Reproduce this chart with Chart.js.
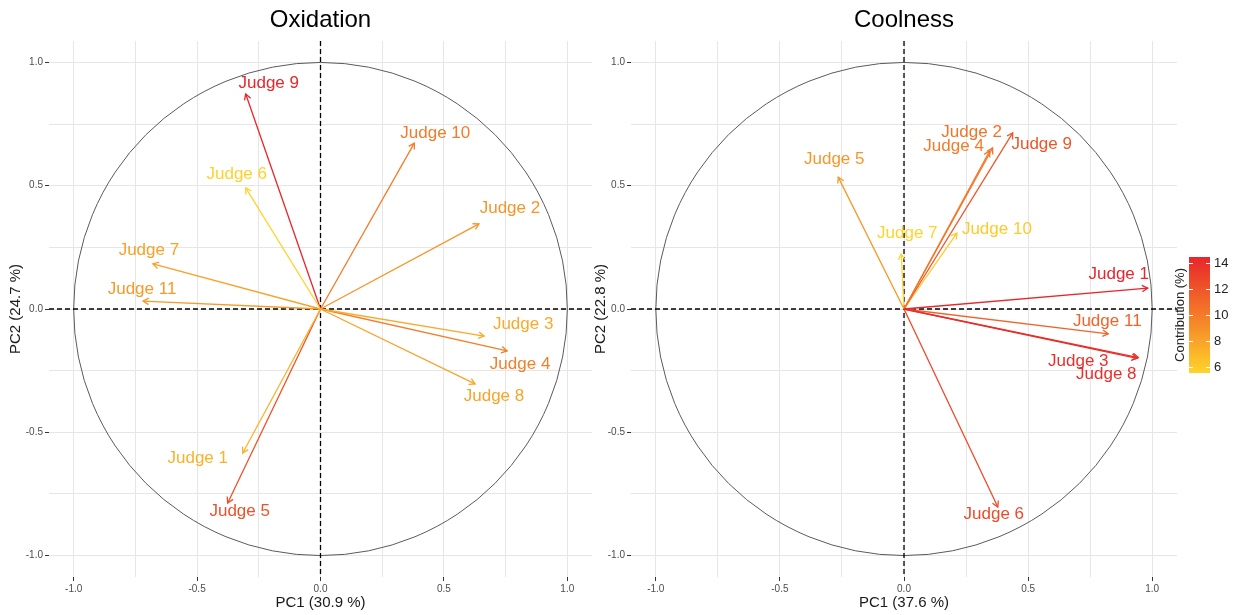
<!DOCTYPE html>
<html>
<head>
<meta charset="utf-8">
<script src="https://cdn.jsdelivr.net/npm/chart.js@4/dist/chart.umd.min.js"></script>
<style>
  body { margin: 0; background: #fff; width: 1240px; height: 615px; overflow: hidden; position: relative; }
  canvas { position: absolute; top: 0; }
  #oxidation { left: 0; }
  #coolness { left: 585px; }
</style>
</head>
<body>
<canvas id="oxidation" width="600" height="615"></canvas>
<canvas id="coolness" width="655" height="615"></canvas>
<script>
// waarden

var judges = ['Judge 1', 'Judge 2', 'Judge 3', 'Judge 4', 'Judge 5', 'Judge 6',
              'Judge 7', 'Judge 8', 'Judge 9', 'Judge 10', 'Judge 11'];

// Oxidation
var oxPC1 = [-0.315, 0.642, 0.663, 0.756, -0.376, -0.303, -0.679, 0.626, -0.303, 0.380, -0.719];
var oxPC2 = [-0.584, 0.345, -0.110, -0.170, -0.787, 0.491, 0.183, -0.304, 0.872, 0.673, 0.032];
var oxContrib = [7.2, 8.7, 7.6, 9.8, 12.2, 5.6, 8.1, 8.0, 14.5, 10.0, 8.5];

// Coolness
var coPC1 = [0.982, 0.357, 0.940, 0.345, -0.265, 0.378, -0.011, 0.944, 0.438, 0.213, 0.823];
var coPC2 = [0.085, 0.653, -0.200, 0.641, 0.535, -0.803, 0.223, -0.197, 0.714, 0.308, -0.101];
var coContrib = [14.5, 10.4, 14.0, 10.0, 8.6, 12.6, 5.5, 14.0, 12.0, 6.0, 11.2];

var axisTicks = [-1.0, -0.5, 0.0, 0.5, 1.0];
var minorTicks = [-0.75, -0.25, 0.25, 0.75];
var legendTicks = [6, 8, 10, 12, 14];

// label offsets in pixels (ggrepel-achtig)
var oxNudge = [[-45, 5], [31, -16], [39, -12], [13, 13], [12, 8], [-9, -14], [-4, -14], [19, 12], [23, -11], [21, -10], [-1, -12]];
var coNudge = [[-29, -14], [-21, -16], [-59, 3], [-36, -5], [-4, -18], [-4, 7], [6, -21], [-32, 17], [29, 11], [40, -4], [-1, -13]];

Chart.defaults.font.family = '"Liberation Sans", Arial, sans-serif';

var contribMin = 5.5, contribMax = 14.5;
var gradStops = [[255, 212, 42], [244, 123, 40], [232, 38, 43]];

function contribColour(v) {
    var t = (v - contribMin) / (contribMax - contribMin);
    t = Math.max(0, Math.min(1, t));
    var a, b, f;
    if (t < 0.5) { a = gradStops[0]; b = gradStops[1]; f = t / 0.5; }
    else { a = gradStops[1]; b = gradStops[2]; f = (t - 0.5) / 0.5; }
    var c = a.map(function (x, i) { return Math.round(x + (b[i] - x) * f); });
    return 'rgb(' + c.join(',') + ')';
}

function isMajor(v) {
    return axisTicks.some(function (t) { return Math.abs(t - v) < 1e-6; });
}

function allTicks(scale) {
    scale.ticks = axisTicks.concat(minorTicks).sort(function (a, b) { return a - b; })
        .map(function (v) { return { value: v }; });
}

// cirkel, stippellijnen, pijlpunten, labels, titel en legenda
var pcaPlugin = {
    id: 'pcaPlugin',
    beforeDatasetsDraw: function (chart) {
        var ctx = chart.ctx, x = chart.scales.x, y = chart.scales.y, a = chart.chartArea;
        var cx = x.getPixelForValue(0), cy = y.getPixelForValue(0);
        var rx = x.getPixelForValue(1) - cx, ry = cy - y.getPixelForValue(1);
        ctx.save();
        ctx.strokeStyle = '#5a5a5a';
        ctx.lineWidth = 1;
        ctx.beginPath();
        ctx.ellipse(cx, cy, rx, ry, 0, 0, Math.PI * 2);
        ctx.stroke();
        ctx.strokeStyle = '#000';
        ctx.lineWidth = 1.3;
        ctx.setLineDash([5, 3]);
        ctx.beginPath();
        ctx.moveTo(a.left, cy); ctx.lineTo(a.right, cy);
        ctx.moveTo(cx, a.top); ctx.lineTo(cx, a.bottom);
        ctx.stroke();
        ctx.restore();
    },
    afterDatasetsDraw: function (chart, args, opts) {
        var ctx = chart.ctx, x = chart.scales.x, y = chart.scales.y, a = chart.chartArea;
        var cx = x.getPixelForValue(0), cy = y.getPixelForValue(0);
        ctx.save();
        chart.data.datasets.forEach(function (ds, i) {
            var p = ds.data[1];
            var px = x.getPixelForValue(p.x), py = y.getPixelForValue(p.y);
            var ang = Math.atan2(py - cy, px - cx);
            var len = 6.5, spread = Math.PI / 6;
            ctx.strokeStyle = ds.borderColor;
            ctx.lineWidth = 1.3;
            ctx.beginPath();
            ctx.moveTo(px - len * Math.cos(ang - spread), py - len * Math.sin(ang - spread));
            ctx.lineTo(px, py);
            ctx.lineTo(px - len * Math.cos(ang + spread), py - len * Math.sin(ang + spread));
            ctx.stroke();
            var n = opts.nudge[i];
            ctx.fillStyle = ds.borderColor;
            ctx.font = '17px "Liberation Sans", Arial, sans-serif';
            ctx.textAlign = 'center';
            ctx.textBaseline = 'middle';
            ctx.fillText(ds.label, px + n[0], py + n[1]);
        });
        // titel
        ctx.fillStyle = '#000';
        ctx.font = '24px "Liberation Sans", Arial, sans-serif';
        ctx.textAlign = 'center';
        ctx.textBaseline = 'middle';
        ctx.fillText(opts.title, (a.left + a.right) / 2, 20);

        if (opts.legend) {
            var bx = a.right + 12, bw = 21, top = 257, bottom = 373;
            var vy = function (v) { return bottom - (v - contribMin) / (contribMax - contribMin) * (bottom - top); };
            var g = ctx.createLinearGradient(0, bottom, 0, top);
            for (var k = 0; k <= 20; k++) {
                g.addColorStop(k / 20, contribColour(contribMin + (contribMax - contribMin) * k / 20));
            }
            ctx.fillStyle = g;
            ctx.fillRect(bx, top, bw, bottom - top);
            ctx.strokeStyle = '#fff';
            ctx.lineWidth = 1;
            ctx.fillStyle = '#222';
            ctx.font = '13px "Liberation Sans", Arial, sans-serif';
            ctx.textAlign = 'left';
            legendTicks.forEach(function (v) {
                var ty = Math.round(vy(v)) + 0.5;
                ctx.beginPath();
                ctx.moveTo(bx, ty); ctx.lineTo(bx + 4, ty);
                ctx.moveTo(bx + bw - 4, ty); ctx.lineTo(bx + bw, ty);
                ctx.stroke();
                ctx.fillText(String(v), bx + bw + 4, ty);
            });
            ctx.save();
            ctx.translate(a.right + 3, (top + bottom) / 2);
            ctx.rotate(-Math.PI / 2);
            ctx.textAlign = 'center';
            ctx.font = '13px "Liberation Sans", Arial, sans-serif';
            ctx.fillText('Contribution (%)', 0, 0);
            ctx.restore();
        }
        ctx.restore();
    }
};

function makePanel(id, title, xTitle, yTitle, pc1, pc2, contrib, nudge, axisWidth, padRight, legend) {
    var datasets = judges.map(function (name, i) {
        return {
            label: name,
            data: [{ x: 0, y: 0 }, { x: pc1[i], y: pc2[i] }],
            showLine: true,
            borderColor: contribColour(contrib[i]),
            borderWidth: 1.3,
            pointRadius: 0
        };
    });
    var gridOpts = {
        color: '#e6e6e6',
        lineWidth: 1,
        tickLength: 4,
        tickColor: function (c) { return isMajor(c.tick.value) ? '#333' : 'rgba(0,0,0,0)'; }
    };
    var tickOpts = {
        autoSkip: false,
        maxRotation: 0,
        padding: 2,
        color: '#4d4d4d',
        font: { size: 10 },
        callback: function (v) { return isMajor(v) ? v.toFixed(1) : ''; }
    };
    return new Chart(document.getElementById(id).getContext('2d'), {
        type: 'scatter',
        data: { datasets: datasets },
        options: {
            responsive: false,
            animation: false,
            layout: { padding: { top: 41, right: padRight, left: 0, bottom: 0 } },
            plugins: {
                legend: { display: false },
                tooltip: { enabled: false },
                pcaPlugin: { title: title, nudge: nudge, legend: legend }
            },
            scales: {
                x: {
                    type: 'linear', min: -1.1, max: 1.1,
                    afterBuildTicks: allTicks,
                    afterFit: function (s) { s.height = 38; },
                    grid: gridOpts, border: { display: false }, ticks: tickOpts,
                    title: { display: true, text: xTitle, color: '#1a1a1a', font: { size: 15 }, padding: { top: 0, bottom: 3 } }
                },
                y: {
                    type: 'linear', min: -1.087, max: 1.087,
                    afterBuildTicks: allTicks,
                    afterFit: function (s) { s.width = axisWidth; },
                    grid: gridOpts, border: { display: false }, ticks: tickOpts,
                    title: { display: true, text: yTitle, color: '#1a1a1a', font: { size: 15 }, padding: { top: 7, bottom: 0 } }
                }
            }
        },
        plugins: [pcaPlugin]
    });
}

makePanel('oxidation', 'Oxidation', 'PC1 (30.9 %)', 'PC2 (24.7 %)', oxPC1, oxPC2, oxContrib, oxNudge, 49, 8, false);
makePanel('coolness', 'Coolness', 'PC1 (37.6 %)', 'PC2 (22.8 %)', coPC1, coPC2, coContrib, coNudge, 46, 63, true);
</script>
</body>
</html>
